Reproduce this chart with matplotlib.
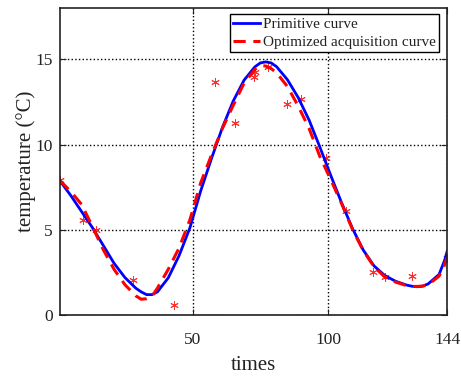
import matplotlib
matplotlib.use("Agg")
import matplotlib.pyplot as plt

plt.rcParams['font.family'] = ['Liberation Serif', 'DejaVu Serif']

# values
t = [1, 5, 9, 13, 17, 21, 25, 29, 31, 33, 35, 37, 41, 45, 49, 53, 57, 61, 65,
     69, 73, 75, 77, 79, 81, 85, 89, 93, 97, 101, 105, 109, 113, 117, 121,
     125, 129, 131, 133, 135, 137, 141, 143, 144]
primitive = [7.88, 7.02, 6.08, 5.14, 4.10, 3.05, 2.22, 1.60, 1.38, 1.22, 1.22,
             1.38, 2.20, 3.50, 5.13, 7.30, 9.20, 11.00, 12.55, 13.77, 14.55,
             14.78, 14.84, 14.78, 14.56, 13.80, 12.75, 11.44, 9.85, 8.20, 6.60,
             5.10, 3.83, 2.90, 2.33, 2.00, 1.78, 1.71, 1.68, 1.72, 1.85, 2.40,
             3.20, 3.75]
optimized = [7.90, 7.25, 6.50, 5.20, 3.85, 2.70, 1.80, 1.15, 0.95, 0.98, 1.12,
             1.60, 2.70, 3.95, 5.60, 7.77, 9.40, 10.95, 12.30, 13.60, 14.40,
             14.62, 14.60, 14.45, 14.20, 13.40, 12.25, 10.95, 9.30, 7.95, 6.55,
             5.05, 3.80, 2.85, 2.25, 1.95, 1.75, 1.70, 1.70, 1.72, 1.80, 2.30,
             2.95, 3.40]

sample_t = [1.2, 9.7, 14.3, 27.9, 43.1, 58.1, 65.8, 72.6, 73.2, 77.9, 84.9,
            90.1, 99.2, 106.5, 116.7, 121.0, 130.9, 143.8]
sample_v = [7.9, 5.6, 5.0, 2.08, 0.61, 13.67, 11.28, 13.97, 14.26, 14.55,
            12.4, 12.64, 9.19, 6.1, 2.56, 2.23, 2.31, 3.34]

fig = plt.figure(figsize=(4.61, 3.76), dpi=100)
ax = fig.add_axes([0.130, 0.161, 0.840, 0.818])

ax.plot(sample_t, sample_v, linestyle='none', marker=(6, 2, 0), markersize=6,
        color='#ff3030', markeredgewidth=0.7)
ax.plot(t, primitive, color='#0000ff', linewidth=2.0, label='Primitive curve')
ax.plot(t, optimized, color='#ff0000', linewidth=2.2, dashes=(4, 2.5),
        label='Optimized acquisition curve')

ax.set_xlim(1, 144)
ax.set_ylim(0, 18)
ax.set_xticks([50, 100, 144])
ax.set_yticks([0, 5, 10, 15])
ax.tick_params(direction='in', top=True, right=True, labelsize=12.5,
               length=4, width=0.8, colors='#222222')
ax.tick_params(axis='x', pad=12)
ax.tick_params(axis='y', pad=5)
ax.grid(True, color='black', linestyle=':', linewidth=1.0)
for sp in ax.spines.values():
    sp.set_linewidth(1.2)
    sp.set_color('#222222')

ax.set_xlabel('times', fontsize=15, color='#222222', labelpad=6)
ax.set_ylabel('temperature (°C)', fontsize=15, color='#222222', labelpad=0)

leg = ax.legend(loc='upper right', bbox_to_anchor=(0.983, 0.984), fontsize=11,
                fancybox=False, framealpha=1, edgecolor='black',
                handlelength=1.8, handletextpad=0.2, borderpad=0.2,
                labelspacing=0.3, borderaxespad=0.1)
leg.get_frame().set_linewidth(1.0)
for txt in leg.get_texts():
    txt.set_color('#222222')

fig.savefig('out.png', dpi=100)
